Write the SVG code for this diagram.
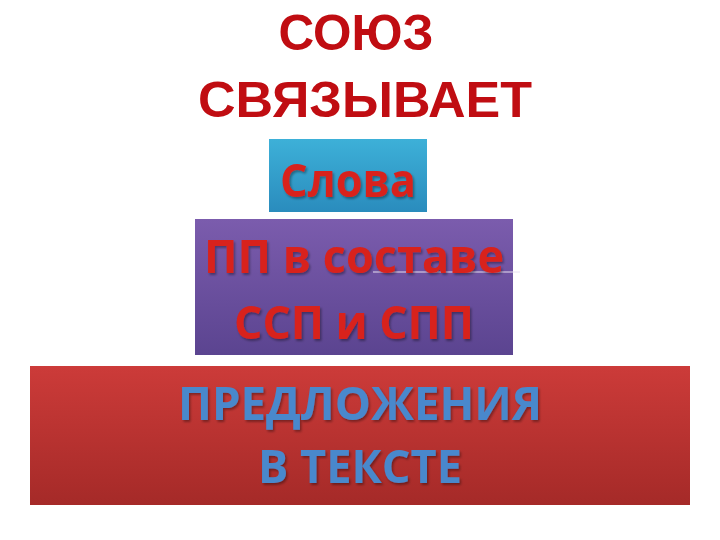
<svg xmlns="http://www.w3.org/2000/svg" width="720" height="540" viewBox="0 0 720 540">
<defs>
<linearGradient id="gBlue" x1="0" y1="0" x2="0" y2="1"><stop offset="0" stop-color="#3db0d8"/><stop offset="1" stop-color="#2a8cbd"/></linearGradient>
<linearGradient id="gPurple" x1="0" y1="0" x2="0" y2="1"><stop offset="0" stop-color="#7b5cad"/><stop offset="1" stop-color="#5b4490"/></linearGradient>
<linearGradient id="gRed" x1="0" y1="0" x2="0" y2="1"><stop offset="0" stop-color="#cc3b39"/><stop offset="1" stop-color="#a52a28"/></linearGradient>
<filter id="sh" x="-10%" y="-10%" width="120%" height="130%"><feDropShadow dx="1.5" dy="2" stdDeviation="1.2" flood-color="#000" flood-opacity="0.35"/></filter>
</defs>
<style>
.t{font-family:"Open Sans","Noto Sans","Liberation Sans",sans-serif;text-anchor:middle}
.title{font-family:"Liberation Sans","Arial",sans-serif;fill:#c00d12;font-size:50px;font-weight:bold}
.red{fill:#d8221f;font-weight:bold;font-size:46px}
.blue{fill:#4a88cc;font-weight:bold;font-size:46px}
</style>
<rect width="720" height="540" fill="#ffffff"/>
<g id="title">
<text class="t title" x="356" y="50" textLength="155" lengthAdjust="spacingAndGlyphs">СОЮЗ</text>
<text class="t title" x="365" y="117" textLength="334" lengthAdjust="spacingAndGlyphs">СВЯЗЫВАЕТ</text>
</g>
<g id="slova">
<rect x="269" y="139" width="158" height="73" fill="url(#gBlue)"/>
<text class="t red" x="348" y="197" textLength="136" lengthAdjust="spacingAndGlyphs" filter="url(#sh)">Слова</text>
</g>
<g id="pp">
<rect x="195" y="219" width="318" height="136" fill="url(#gPurple)"/>
<line x1="373" y1="272" x2="520" y2="272" stroke="#e8e0f0" stroke-width="1"/>
<text class="t red" x="354" y="273" textLength="300" lengthAdjust="spacingAndGlyphs" filter="url(#sh)">ПП в составе</text>
<text class="t red" x="354" y="339" textLength="240" lengthAdjust="spacingAndGlyphs" filter="url(#sh)">ССП и СПП</text>
</g>
<g id="predl">
<rect x="30" y="366" width="660" height="139" fill="url(#gRed)"/>
<text class="t blue" x="360" y="420" textLength="364" lengthAdjust="spacingAndGlyphs" filter="url(#sh)">ПРЕДЛОЖЕНИЯ</text>
<text class="t blue" x="360" y="483" textLength="204" lengthAdjust="spacingAndGlyphs" filter="url(#sh)">В ТЕКСТЕ</text>
</g>
<g id="connectors"></g>
</svg>
